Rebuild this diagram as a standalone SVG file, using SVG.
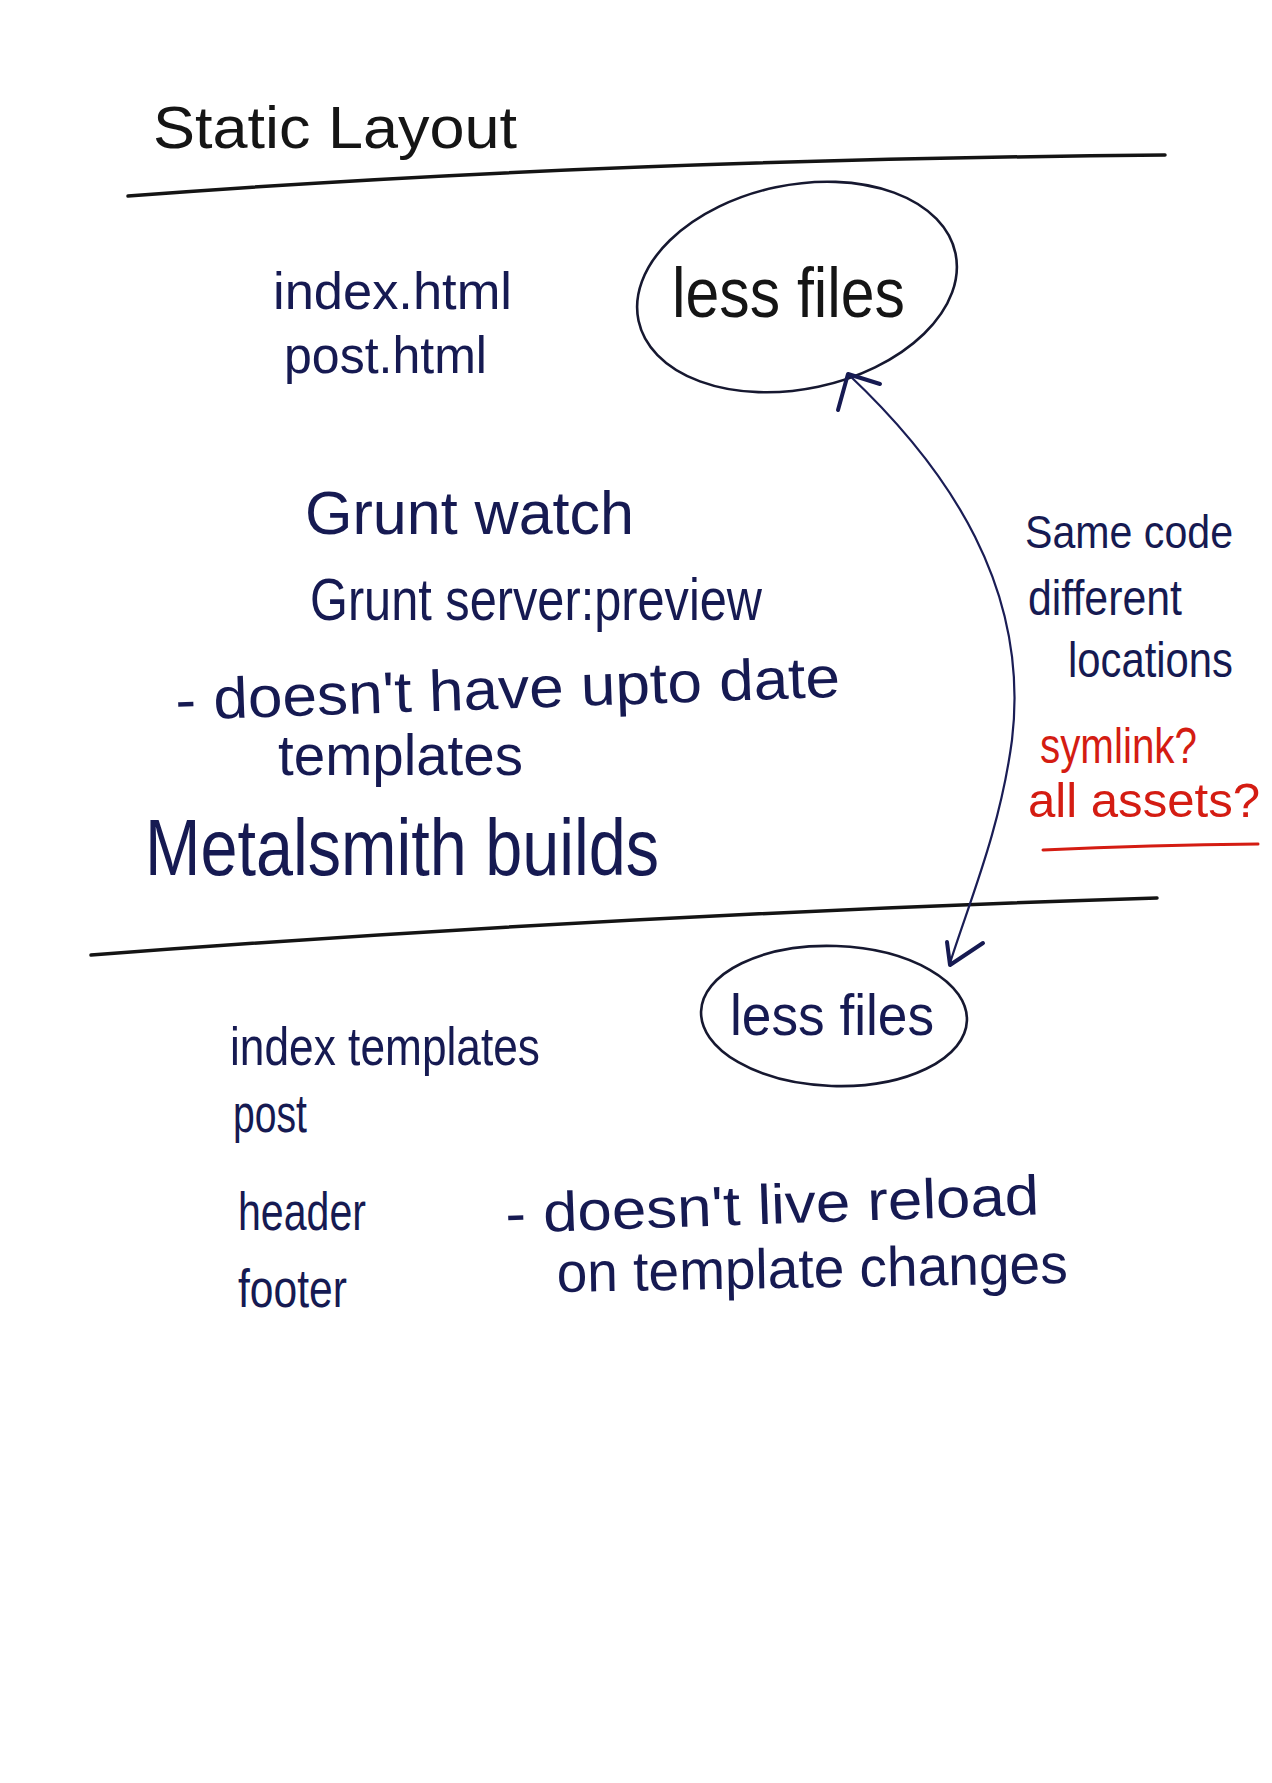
<svg xmlns="http://www.w3.org/2000/svg" width="1272" height="1783" viewBox="0 0 1272 1783">
<style>
.hw{font-family:"Liberation Sans","DejaVu Sans",sans-serif;fill:#161a52}
.blk{fill:#151515}
.red{fill:#d41c12}
.rule{fill:none;stroke:#141414;stroke-width:3.5;stroke-linecap:round}
.ell{fill:none;stroke:#161830;stroke-width:2.6}
.con{fill:none;stroke:#1a1d55;stroke-width:2.2;stroke-linecap:round;stroke-linejoin:round}
.head{fill:none;stroke:#161a52;stroke-width:4;stroke-linecap:round;stroke-linejoin:round}
</style>
<rect width="1272" height="1783" fill="#ffffff"/>
<g id="title">
<text class="hw blk" x="153" y="148" font-size="60" textLength="364" lengthAdjust="spacingAndGlyphs">Static Layout</text>
</g>
<g id="dividers">
<path class="rule" d="M128,196 Q600,160 1165,155"/>
<path class="rule" d="M91,955 Q620,915 1157,898"/>
</g>
<g id="node-less-top">
<ellipse class="ell" cx="797" cy="287" rx="162" ry="102" transform="rotate(-12 797 287)"/>
<text class="hw blk" x="672" y="317" font-size="70" textLength="233" lengthAdjust="spacingAndGlyphs">less files</text>
</g>
<g id="node-less-bottom">
<ellipse class="ell" cx="834" cy="1016" rx="133" ry="70" transform="rotate(2 834 1016)"/>
<text class="hw" x="730" y="1035" font-size="58" textLength="204" lengthAdjust="spacingAndGlyphs">less files</text>
</g>
<g id="connectors">
<path class="con" d="M848,374 C950,470 1030,590 1012,740 C1000,830 970,900 950,963"/>
<path class="head" d="M838,410 L848,374 L880,384"/>
<path class="head" d="M947,942 L950,965 L983,943"/>
</g>
<g id="static-files">
<text class="hw" x="273" y="309" font-size="52" textLength="239" lengthAdjust="spacingAndGlyphs">index.html</text>
<text class="hw" x="284" y="373" font-size="52" textLength="203" lengthAdjust="spacingAndGlyphs">post.html</text>
</g>
<g id="grunt">
<text class="hw" x="305" y="534" font-size="62" textLength="329" lengthAdjust="spacingAndGlyphs">Grunt watch</text>
<text class="hw" x="310" y="620" font-size="60" textLength="452" lengthAdjust="spacingAndGlyphs">Grunt server:preview</text>
<text class="hw" x="176" y="720" font-size="58" textLength="665" lengthAdjust="spacingAndGlyphs" transform="rotate(-2 176 720)">- doesn't have upto date</text>
<text class="hw" x="278" y="775" font-size="58" textLength="245" lengthAdjust="spacingAndGlyphs">templates</text>
</g>
<g id="metalsmith">
<text class="hw" x="145" y="875" font-size="80" textLength="514" lengthAdjust="spacingAndGlyphs">Metalsmith builds</text>
</g>
<g id="note">
<text class="hw" x="1025" y="548" font-size="46" textLength="208" lengthAdjust="spacingAndGlyphs">Same code</text>
<text class="hw" x="1028" y="615" font-size="50" textLength="154" lengthAdjust="spacingAndGlyphs">different</text>
<text class="hw" x="1068" y="677" font-size="50" textLength="165" lengthAdjust="spacingAndGlyphs">locations</text>
<text class="hw red" x="1040" y="763" font-size="50" textLength="157" lengthAdjust="spacingAndGlyphs">symlink?</text>
<text class="hw red" x="1028" y="817" font-size="48" textLength="232" lengthAdjust="spacingAndGlyphs">all assets?</text>
<path d="M1043,850 Q1150,845 1258,844" fill="none" stroke="#d41c12" stroke-width="3" stroke-linecap="round"/>
</g>
<g id="templates">
<text class="hw" x="230" y="1065" font-size="54" textLength="310" lengthAdjust="spacingAndGlyphs">index templates</text>
<text class="hw" x="233" y="1132" font-size="54" textLength="74" lengthAdjust="spacingAndGlyphs">post</text>
<text class="hw" x="238" y="1230" font-size="54" textLength="128" lengthAdjust="spacingAndGlyphs">header</text>
<text class="hw" x="238" y="1307" font-size="54" textLength="109" lengthAdjust="spacingAndGlyphs">footer</text>
</g>
<g id="reload-note">
<text class="hw" x="506" y="1233" font-size="56" textLength="534" lengthAdjust="spacingAndGlyphs" transform="rotate(-2 506 1233)">- doesn't live reload</text>
<text class="hw" x="557" y="1292" font-size="56" textLength="511" lengthAdjust="spacingAndGlyphs" transform="rotate(-1 557 1292)">on template changes</text>
</g>
</svg>
